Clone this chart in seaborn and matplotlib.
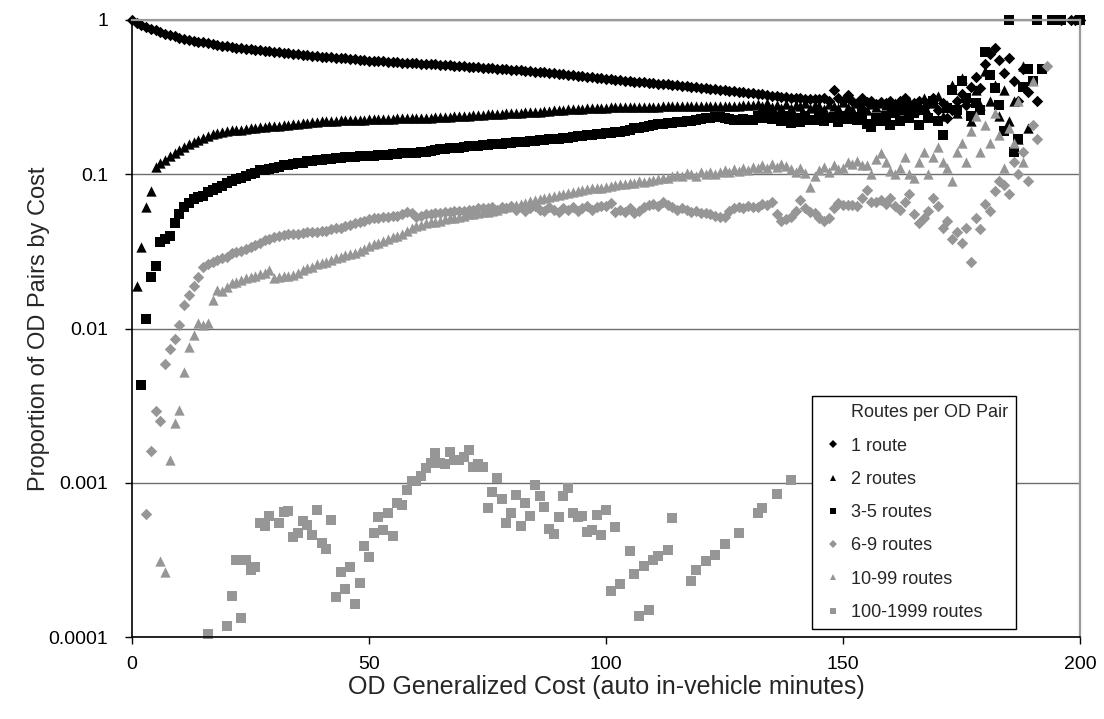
import numpy as np
import pandas as pd
import matplotlib
matplotlib.use("Agg")
import matplotlib.pyplot as plt
import seaborn as sns
from matplotlib.lines import Line2D
from matplotlib.ticker import NullLocator

sns.set_theme(style="white")
plt.rcParams['font.family'] = ['Liberation Sans', 'DejaVu Sans']

nan = np.nan

# proportion of OD pairs by cost, one value per cost minute (series start cost noted)
one_route_start = 0
one_route = [
    1.0, 0.96, 0.93, 0.90, 0.875, 0.855, 0.835, 0.815, 0.80, 0.785,
    0.77, 0.755, 0.745, 0.735, 0.725, 0.717, 0.708, 0.70, 0.69, 0.683,
    0.676, 0.668, 0.661, 0.656, 0.651, 0.647, 0.643, 0.638, 0.633, 0.628,
    0.623, 0.618, 0.613, 0.608, 0.603, 0.598, 0.594, 0.589, 0.585, 0.581,
    0.577, 0.575, 0.572, 0.570, 0.567, 0.564, 0.561, 0.558, 0.554, 0.550,
    0.546, 0.543, 0.541, 0.539, 0.536, 0.534, 0.532, 0.530, 0.527, 0.525,
    0.523, 0.521, 0.520, 0.518, 0.516, 0.513, 0.511, 0.508, 0.506, 0.503,
    0.501, 0.498, 0.496, 0.494, 0.491, 0.489, 0.487, 0.484, 0.482, 0.479,
    0.477, 0.474, 0.471, 0.469, 0.466, 0.463, 0.460, 0.457, 0.454, 0.451,
    0.448, 0.445, 0.441, 0.438, 0.435, 0.432, 0.429, 0.426, 0.423, 0.420,
    0.417, 0.414, 0.411, 0.408, 0.405, 0.402, 0.399, 0.397, 0.394, 0.391,
    0.389, 0.387, 0.384, 0.382, 0.380, 0.378, 0.375, 0.373, 0.370, 0.367,
    0.364, 0.361, 0.358, 0.355, 0.352, 0.350, 0.347, 0.345, 0.342, 0.340,
    0.337, 0.335, 0.332, 0.329, 0.326, 0.323, 0.320, 0.318, 0.315, 0.314,
    0.312, 0.311, 0.309, 0.308, 0.307, 0.306, 0.310, 0.300, 0.352, 0.310,
    0.300, 0.326, 0.300, 0.290, 0.310, 0.295, 0.300, 0.285, 0.295, 0.290,
    0.300, 0.280, 0.300, 0.310, 0.280, 0.290, 0.300, 0.270, 0.290, 0.310,
    0.260, 0.290, 0.230, 0.260, 0.300, 0.330, 0.280, 0.370, 0.430, 0.360,
    0.520, 0.600, 0.660, 0.550, 0.450, 0.570, 0.400, 0.300, 0.480, 0.340,
    nan, 0.300, nan, nan, nan, nan, 1.0, nan, 1.0, 1.0, 1.0,
]

two_routes_start = 1
two_routes = [
    0.019, 0.034, 0.061, 0.078, 0.112, 0.118, 0.124, 0.131, 0.137, 0.144,
    0.150, 0.156, 0.162, 0.167, 0.172, 0.177, 0.182, 0.186, 0.189, 0.191,
    0.193, 0.194, 0.195, 0.197, 0.198, 0.200, 0.201, 0.203, 0.204, 0.205,
    0.207, 0.208, 0.210, 0.212, 0.213, 0.215, 0.216, 0.218, 0.219, 0.220,
    0.221, 0.222, 0.223, 0.224, 0.224, 0.225, 0.225, 0.226, 0.226, 0.227,
    0.227, 0.228, 0.228, 0.229, 0.229, 0.230, 0.230, 0.231, 0.231, 0.232,
    0.232, 0.233, 0.233, 0.234, 0.234, 0.235, 0.236, 0.237, 0.238, 0.239,
    0.240, 0.241, 0.242, 0.243, 0.244, 0.245, 0.246, 0.247, 0.248, 0.249,
    0.250, 0.251, 0.252, 0.253, 0.254, 0.255, 0.256, 0.258, 0.259, 0.260,
    0.262, 0.263, 0.264, 0.265, 0.266, 0.267, 0.268, 0.269, 0.270, 0.270,
    0.271, 0.271, 0.272, 0.272, 0.272, 0.273, 0.273, 0.273, 0.274, 0.274,
    0.274, 0.275, 0.275, 0.275, 0.275, 0.276, 0.276, 0.276, 0.277, 0.277,
    0.277, 0.277, 0.278, 0.278, 0.278, 0.279, 0.279, 0.279, 0.280, 0.280,
    0.280, 0.284, 0.276, 0.288, 0.272, 0.282, 0.270, 0.285, 0.268, 0.283,
    0.275, 0.290, 0.268, 0.281, 0.279, 0.265, 0.287, 0.276, 0.270, 0.292,
    0.274, 0.266, 0.288, 0.280, 0.262, 0.285, 0.272, 0.290, 0.280, 0.270,
    0.290, 0.260, 0.280, 0.300, 0.260, 0.280, 0.310, 0.250, 0.290, 0.320,
    0.240, 0.280, 0.380, 0.250, 0.420, 0.300, 0.220, 0.350, 0.280, 0.470,
    0.300, 0.380, 0.240, 0.350, 0.220, 0.300, 0.170, 0.500, 0.200,
]

three_five_start = 2
three_five = [
    0.0043, 0.0115, 0.0216, 0.0254, 0.0366, 0.038, 0.040, 0.0486, 0.055, 0.0617,
    0.065, 0.0695, 0.071, 0.072, 0.077, 0.079, 0.081, 0.084, 0.088, 0.091,
    0.093, 0.095, 0.097, 0.100, 0.102, 0.106, 0.107, 0.108, 0.110, 0.112,
    0.114, 0.115, 0.117, 0.118, 0.119, 0.121, 0.122, 0.123, 0.124, 0.125,
    0.126, 0.127, 0.128, 0.129, 0.130, 0.130, 0.131, 0.131, 0.132, 0.132,
    0.133, 0.134, 0.134, 0.135, 0.136, 0.137, 0.137, 0.138, 0.138, 0.139,
    0.140, 0.142, 0.144, 0.145, 0.146, 0.147, 0.148, 0.149, 0.150, 0.152,
    0.152, 0.153, 0.154, 0.155, 0.156, 0.157, 0.158, 0.159, 0.160, 0.161,
    0.162, 0.163, 0.164, 0.165, 0.166, 0.167, 0.168, 0.169, 0.170, 0.171,
    0.172, 0.174, 0.176, 0.178, 0.180, 0.181, 0.182, 0.183, 0.184, 0.186,
    0.188, 0.189, 0.192, 0.195, 0.198, 0.200, 0.203, 0.206, 0.209, 0.211,
    0.213, 0.215, 0.216, 0.218, 0.219, 0.220, 0.222, 0.225, 0.228, 0.230,
    0.232, 0.234, 0.236, 0.232, 0.229, 0.226, 0.224, 0.228, 0.225, 0.225,
    0.240, 0.232, 0.248, 0.228, 0.235, 0.222, 0.240, 0.214, 0.230, 0.218,
    0.238, 0.225, 0.225, 0.242, 0.220, 0.232, 0.236, 0.219, 0.240, 0.228,
    0.236, 0.224, 0.245, 0.212, 0.203, 0.230, 0.220, 0.240, 0.210, 0.250,
    0.220, 0.270, 0.230, 0.250, 0.210, 0.260, 0.230, 0.300, 0.220, 0.180,
    0.270, 0.350, 0.260, 0.400, 0.310, 0.240, 0.290, 0.260, 0.620, 0.440,
    0.360, 0.280, 0.190, 1.0, 0.140, 0.170, 0.370, 0.480, 0.400, 1.0,
    0.480, nan, 1.0, nan, 1.0, nan, nan, nan, 1.0,
]

six_nine_start = 3
six_nine = [
    0.00063, 0.0016, 0.0029, 0.0025, 0.0059, 0.0074, 0.0086, 0.0105, 0.0142, 0.0165,
    0.019, 0.0217, 0.025, 0.0263, 0.027, 0.028, 0.0285, 0.029, 0.031, 0.0315,
    0.032, 0.033, 0.034, 0.035, 0.036, 0.0375, 0.038, 0.039, 0.040, 0.0404,
    0.041, 0.041, 0.0412, 0.0414, 0.042, 0.0422, 0.0425, 0.0428, 0.043, 0.044,
    0.0446, 0.045, 0.046, 0.047, 0.048, 0.049, 0.050, 0.051, 0.052, 0.052,
    0.053, 0.053, 0.054, 0.054, 0.055, 0.057, 0.056, 0.053, 0.054, 0.055,
    0.055, 0.056, 0.056, 0.057, 0.057, 0.058, 0.058, 0.058, 0.059, 0.059,
    0.060, 0.060, 0.060, 0.061, 0.059, 0.061, 0.060, 0.062, 0.059, 0.061,
    0.058, 0.060, 0.062, 0.059, 0.058, 0.061, 0.059, 0.057, 0.060, 0.059,
    0.061, 0.058, 0.060, 0.062, 0.059, 0.061, 0.062, 0.062, 0.065, 0.057,
    0.059, 0.057, 0.060, 0.0557, 0.058, 0.061, 0.063, 0.064, 0.062, 0.066,
    0.063, 0.061, 0.059, 0.060, 0.0587, 0.057, 0.058, 0.056, 0.0557, 0.055,
    0.054, 0.053, 0.053, 0.058, 0.060, 0.0617, 0.060, 0.062, 0.0617, 0.0617,
    0.064, 0.063, 0.066, 0.055, 0.0495, 0.051, 0.053, 0.058, 0.068, 0.060,
    0.057, 0.0557, 0.052, 0.050, 0.052, 0.060, 0.065, 0.063, 0.063, 0.0635,
    0.062, 0.070, 0.079, 0.066, 0.066, 0.068, 0.064, 0.070, 0.062, 0.059,
    0.066, 0.075, 0.055, 0.048, 0.052, 0.058, 0.070, 0.062, 0.045, 0.050,
    0.038, 0.042, 0.036, 0.045, 0.027, 0.052, 0.044, 0.064, 0.058, 0.078,
    0.090, 0.085, 0.075, 0.120, 0.100, 0.140, 0.090, 0.210, 0.170, nan,
    0.50,
]

ten_99_start = 6
ten_99 = [
    0.00031, 0.000265, 0.0014, 0.00244, 0.00296, 0.0052, 0.0076, 0.0091, 0.0109, 0.0106,
    0.0109, 0.0152, 0.0178, 0.0175, 0.0185, 0.0196, 0.020, 0.0205, 0.0212, 0.0215,
    0.022, 0.0227, 0.023, 0.0239, 0.0212, 0.0215, 0.022, 0.022, 0.0222, 0.023,
    0.024, 0.0245, 0.025, 0.026, 0.0265, 0.027, 0.028, 0.0285, 0.029, 0.030,
    0.0305, 0.031, 0.032, 0.033, 0.0345, 0.0355, 0.036, 0.037, 0.038, 0.039,
    0.040, 0.041, 0.043, 0.045, 0.046, 0.047, 0.048, 0.049, 0.049, 0.050,
    0.051, 0.052, 0.052, 0.053, 0.054, 0.055, 0.055, 0.056, 0.057, 0.057,
    0.058, 0.059, 0.060, 0.061, 0.062, 0.063, 0.064, 0.065, 0.067, 0.068,
    0.069, 0.070, 0.071, 0.072, 0.073, 0.075, 0.076, 0.077, 0.078, 0.079,
    0.080, 0.081, 0.082, 0.082, 0.083, 0.084, 0.085, 0.087, 0.086, 0.0875,
    0.088, 0.090, 0.089, 0.091, 0.092, 0.093, 0.095, 0.094, 0.097, 0.099,
    0.098, 0.102, 0.100, 0.098, 0.103, 0.101, 0.104, 0.100, 0.104, 0.106,
    0.103, 0.108, 0.105, 0.110, 0.107, 0.112, 0.109, 0.114, 0.110, 0.116,
    0.112, 0.117, 0.113, 0.108, 0.104, 0.110, 0.102, 0.083, 0.098, 0.107,
    0.112, 0.103, 0.115, 0.108, 0.110, 0.120, 0.116, 0.121, 0.114, 0.115,
    0.100, 0.125, 0.137, 0.120, 0.105, 0.100, 0.110, 0.130, 0.100, 0.095,
    0.120, 0.140, 0.100, 0.130, 0.150, 0.120, 0.110, 0.090, 0.140, 0.160,
    0.120, 0.190, 0.240, 0.140, 0.210, 0.160, 0.250, 0.180, 0.110, 0.200,
    0.160, 0.300, 0.120, nan, 0.400,
]

# 100-1999 routes: scattered points, cost and proportion
hundred_cost = [
    16, 20, 21, 22, 23, 24, 25, 26, 27, 28, 29, 31, 32, 33, 34, 35, 36, 37, 38, 39,
    40, 41, 42, 43, 44, 45, 46, 47, 48, 49, 50, 51, 52, 53, 54, 55, 56, 57, 58, 59,
    60, 61, 62, 63, 64, 65, 66, 67, 68, 69, 70, 71, 72, 73, 74, 75, 76, 77, 78, 79,
    80, 81, 82, 83, 84, 85, 86, 87, 88, 89, 90, 91, 92, 93, 94, 95, 96, 97, 98, 99,
    100, 101, 102, 103, 105, 106, 107, 108, 109, 110, 111, 113, 114, 118, 119, 121,
    123, 125, 128, 132, 133, 136, 139,
]
hundred_share = [
    0.000105, 0.000118, 0.000185, 0.000316, 0.000132, 0.000316, 0.000272, 0.000284,
    0.000551, 0.000525, 0.00061, 0.00055, 0.00065, 0.00066, 0.000447, 0.000475,
    0.000567, 0.000529, 0.000458, 0.000666, 0.000409, 0.00037, 0.000573, 0.000183,
    0.000265, 0.000204, 0.000286, 0.000164, 0.000225, 0.000389, 0.000332, 0.000475,
    0.000603, 0.000494, 0.000634, 0.000452, 0.000736, 0.000717, 0.000897, 0.00102,
    0.00102, 0.00111, 0.00124, 0.00135, 0.00157, 0.00135, 0.00133, 0.00159,
    0.0014, 0.00141, 0.00146, 0.00162, 0.00126, 0.00133, 0.00126, 0.000683,
    0.000875, 0.00108, 0.000785, 0.000546, 0.00064, 0.000834, 0.000525, 0.000736,
    0.00061, 0.000967, 0.00082, 0.000695, 0.000499, 0.000465, 0.000603, 0.00082,
    0.00093, 0.000634, 0.000603, 0.00061, 0.00048, 0.000494, 0.000622, 0.000458,
    0.000666, 0.0002, 0.00052, 0.000221, 0.000363, 0.000256, 0.000137, 0.000288,
    0.00015, 0.000318, 0.000335, 0.000367, 0.00059, 0.00023, 0.00027, 0.00031,
    0.00034, 0.00040, 0.00047, 0.00064, 0.00069, 0.00085, 0.00104,
]

series_names = ["1 route", "2 routes", "3-5 routes", "6-9 routes",
                "10-99 routes", "100-1999 routes"]

BLACK = "#000000"
GRAY = "#969696"
# marker, colour, scatter size, legend marker size
styles = {
    "1 route": ("D", BLACK, 34, 4.4),
    "2 routes": ("^", BLACK, 55, 5.0),
    "3-5 routes": ("s", BLACK, 44, 4.8),
    "6-9 routes": ("D", GRAY, 34, 4.4),
    "10-99 routes": ("^", GRAY, 55, 5.0),
    "100-1999 routes": ("s", GRAY, 44, 4.8),
}

frames = []
for name, start, vals in [
    ("1 route", one_route_start, one_route),
    ("2 routes", two_routes_start, two_routes),
    ("3-5 routes", three_five_start, three_five),
    ("6-9 routes", six_nine_start, six_nine),
    ("10-99 routes", ten_99_start, ten_99),
]:
    frames.append(pd.DataFrame({"cost": np.arange(start, start + len(vals)),
                                "share": vals, "group": name}))
frames.append(pd.DataFrame({"cost": hundred_cost, "share": hundred_share,
                            "group": "100-1999 routes"}))
df = pd.concat(frames, ignore_index=True).dropna()

W, H = 1104, 719
fig = plt.figure(figsize=(W / 100, H / 100), dpi=100)
ax = fig.add_axes([132 / W, (H - 637) / H, 948 / W, 617 / H])

for name in series_names:
    marker, color, size, _ = styles[name]
    sub = df[df["group"] == name]
    sns.scatterplot(data=sub, x="cost", y="share", marker=marker, color=color,
                    s=size, linewidth=0, ax=ax, legend=False)
    ax.collections[-1].set_clip_on(False)

ax.set_yscale("log")
ax.set_xlim(0, 200)
ax.set_ylim(1e-4, 1)
ax.set_xticks([0, 50, 100, 150, 200])
ax.set_yticks([1e-4, 1e-3, 1e-2, 1e-1, 1])
ax.set_yticklabels(["0.0001", "0.001", "0.01", "0.1", "1"])
ax.yaxis.set_minor_locator(NullLocator())
ax.tick_params(axis="both", which="major", bottom=True, left=True,
               direction="out", length=5, width=1, color="black",
               labelsize=14, labelcolor="black")
ax.tick_params(axis="x", pad=9)
ax.tick_params(axis="y", pad=12)

ax.yaxis.grid(True, color="#6e6e6e", linewidth=1)
ax.xaxis.grid(False)
ax.set_axisbelow(True)
for side in ["left", "bottom"]:
    ax.spines[side].set_color("black")
    ax.spines[side].set_linewidth(1.2)
for side in ["top", "right"]:
    ax.spines[side].set_color("#9a9a9a")
    ax.spines[side].set_linewidth(1.6)

ax.set_xlabel("OD Generalized Cost (auto in-vehicle minutes)", fontsize=18)
ax.set_ylabel("Proportion of OD Pairs by Cost", fontsize=17)
ax.xaxis.set_label_coords(0.5, -0.062)
ax.yaxis.set_label_coords(-0.086, 0.5)

handles = [Line2D([], [], linestyle="none", marker=None)]
labels = ["Routes per OD Pair"]
for name in series_names:
    marker, color, _, ms = styles[name]
    handles.append(Line2D([], [], linestyle="none", marker=marker, color=color,
                          markersize=ms, markeredgewidth=0))
    labels.append(name)
leg = ax.legend(handles, labels, loc="lower left",
                bbox_to_anchor=(812 / W, (H - 629) / H),
                bbox_transform=fig.transFigure, borderaxespad=0,
                fontsize=13, frameon=True, fancybox=False, framealpha=1,
                edgecolor="black", handlelength=1.4, handletextpad=0.3,
                borderpad=0.45, labelspacing=0.9)
leg.get_frame().set_linewidth(1)

fig.savefig("out.png", dpi=100)
